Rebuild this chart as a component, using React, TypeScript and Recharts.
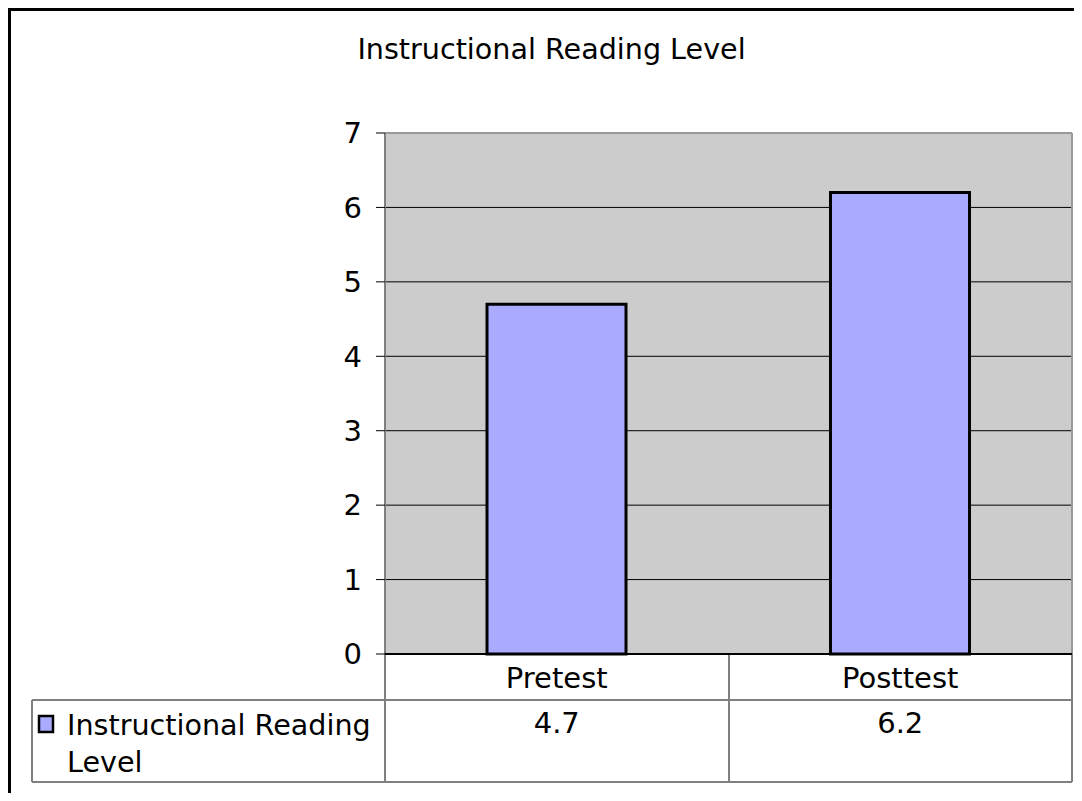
import { BarChart, Bar, XAxis, YAxis, CartesianGrid, Customized } from 'recharts'

const categories = ['Pretest', 'Posttest']
const readingLevel = [4.7, 6.2]
const yTicks = [0, 1, 2, 3, 4, 5, 6, 7]
const seriesName = 'Instructional Reading Level'
const chartTitle = 'Instructional Reading Level'

const data = categories.map((c, i) => ({ name: c, value: readingLevel[i] }))

const FONT = '"DejaVu Sans", Verdana, sans-serif'
const BAR_FILL = '#aaaaff'
const FS = 28.6

// table / frame decoration (chart coords = page coords - 8)
function Decor() {
  return (
    <g>
      {/* outer frame, only top and left visible */}
      <line x1={1.5} y1={0} x2={1.5} y2={793} stroke="#000" strokeWidth={3} />
      <line x1={0} y1={1.5} x2={1066} y2={1.5} stroke="#000" strokeWidth={3} />
      <text x={543.5} y={51} textAnchor="middle" fontSize={FS} fontFamily={FONT} fill="#000">
        {chartTitle}
      </text>
      {/* plot border */}
      <line x1={377} y1={125} x2={1064} y2={125} stroke="#999" strokeWidth={2} />
      <line x1={1064} y1={125} x2={1064} y2={646} stroke="#999" strokeWidth={2} />
      {/* data table */}
      <line x1={377} y1={646} x2={377} y2={774} stroke="#808080" strokeWidth={2} />
      <line x1={721} y1={646} x2={721} y2={774} stroke="#000" strokeWidth={1} />
      <line x1={1064} y1={646} x2={1064} y2={774} stroke="#808080" strokeWidth={2} />
      <line x1={24} y1={692} x2={1064} y2={692} stroke="#808080" strokeWidth={2} />
      <line x1={24} y1={774} x2={1064} y2={774} stroke="#808080" strokeWidth={2} />
      <line x1={24} y1={692} x2={24} y2={774} stroke="#808080" strokeWidth={2} />
      <rect x={31} y={708} width={14} height={16} fill={BAR_FILL} stroke="#000" strokeWidth={2.5} />
      <text x={59} y={727} fontSize={FS} fontFamily={FONT} fill="#000">Instructional Reading</text>
      <text x={59} y={764} fontSize={FS} fontFamily={FONT} fill="#000">Level</text>
    </g>
  )
}

function TableTick(props: any) {
  const { x, y, payload, index } = props
  return (
    <g>
      <text x={x} y={y + 34} textAnchor="middle" fontSize={29} fontFamily={FONT} fill="#000">
        {payload.value}
      </text>
      <text x={x} y={y + 79} textAnchor="middle" fontSize={29} fontFamily={FONT} fill="#000">
        {readingLevel[index]}
      </text>
    </g>
  )
}

export default function App() {
  return (
    <div style={{ width: 1066, height: 793, marginBottom: -8, fontFamily: FONT }}>
      <BarChart
        width={1066}
        height={793}
        data={data}
        margin={{ top: 125, right: 2, bottom: 8, left: 317 }}
      >
        <CartesianGrid fill="#cccccc" vertical={false} stroke="#000" strokeWidth={1} />
        <YAxis
          domain={[0, 7]}
          ticks={yTicks}
          interval={0}
          width={60}
          tickSize={9}
          tickMargin={14}
          tickLine={{ stroke: '#000' }}
          axisLine={{ stroke: '#808080', strokeWidth: 2 }}
          tick={{ fontSize: 29, fill: '#000', fontFamily: FONT }}
        />
        <XAxis
          dataKey="name"
          height={139}
          tickSize={0}
          tickMargin={0}
          tickLine={false}
          axisLine={{ stroke: '#000', strokeWidth: 2 }}
          tick={<TableTick />}
          interval={0}
        />
        <Bar
          dataKey="value"
          name={seriesName}
          fill={BAR_FILL}
          stroke="#000"
          strokeWidth={3}
          barSize={139}
          isAnimationActive={false}
        />
        <Customized component={Decor} />
      </BarChart>
    </div>
  )
}
